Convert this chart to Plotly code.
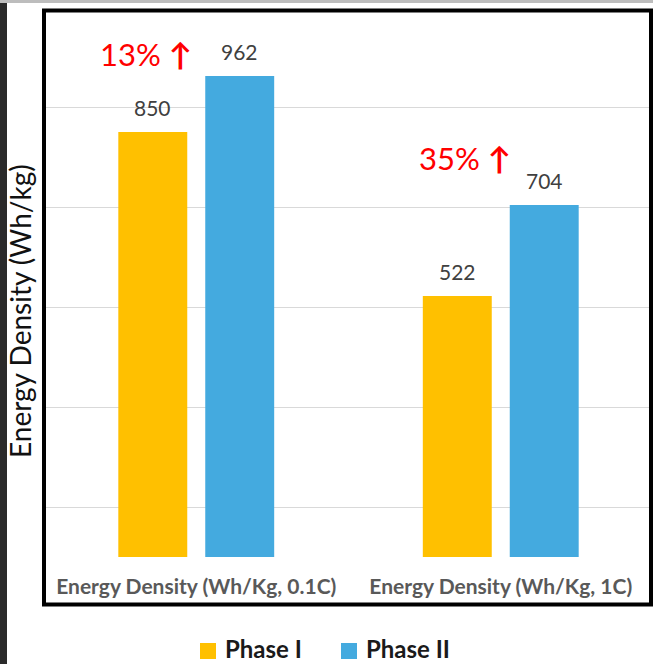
import plotly.graph_objects as go

# Data
categories = ["Energy Density (Wh/Kg, 0.1C)", "Energy Density (Wh/Kg, 1C)"]
phase_1 = [850, 522]
phase_2 = [962, 704]
series_names = ["Phase I", "Phase II"]
colors = ["#FFC000", "#44AADF"]
grid_vals = [100, 300, 500, 700, 900]

W, H = 653, 664
ML, MR, MT, MB = 44, 0, 12, 107
PW, PH = W - ML - MR, H - MT - MB
BARGAP, BARGROUPGAP = 0.429, 0.207


def px_x(px):
    return (px - ML) / PW


def px_y(py):
    return (H - MB - py) / PH


FONT = "Lato"

fig = go.Figure()
slot = (1 - BARGAP) / 2  # width of one bar slot, in category units
for k, (name, vals, col) in enumerate(zip(series_names, [phase_1, phase_2], colors)):
    fig.add_trace(go.Bar(
        x=categories, y=vals, name=name, marker_color=col,
        marker_line_width=0, showlegend=False,
    ))
    # value labels above the bars
    off = (k - 0.5) * slot
    for i, v in enumerate(vals):
        fig.add_annotation(
            x=i + off, y=v, xref="x", yref="y", yanchor="bottom", yshift=10,
            text=str(v), showarrow=False,
            font=dict(family=FONT, size=21, color="#404040"),
        )

# percentage gain labels
gain_x = [-0.166, -0.118]
gain_y = [1006, 799]
for i, (a, b) in enumerate(zip(phase_1, phase_2)):
    pct = round((b - a) / a * 100)
    fig.add_annotation(
        x=i + gain_x[i], y=gain_y[i], xref="x", yref="y",
        text=f"{pct}% <b>\u2191</b>", showarrow=False,
        font=dict(family=FONT, size=31, color="#FF0000"),
    )

# y-axis title
fig.add_annotation(
    x=px_x(20), y=px_y(311), xref="paper", yref="paper",
    xanchor="center", yanchor="middle",
    text="Energy Density (Wh/kg)", textangle=-90, showarrow=False,
    font=dict(family=FONT, size=28, color="#111111"),
)

shapes = [
    # black frame around the chart
    dict(type="rect", xref="paper", yref="paper",
         x0=px_x(44), x1=px_x(651), y0=px_y(604.5), y1=px_y(10.5),
         line=dict(color="black", width=4), fillcolor="rgba(0,0,0,0)"),
    # left dark strip
    dict(type="rect", xref="paper", yref="paper",
         x0=px_x(0), x1=px_x(7), y0=px_y(H), y1=px_y(0),
         line=dict(width=0), fillcolor="#2a2a2a", layer="below"),
    # top grey band
    dict(type="rect", xref="paper", yref="paper",
         x0=px_x(0), x1=px_x(W), y0=px_y(3), y1=px_y(0),
         line=dict(width=0), fillcolor="#bdbdbd", layer="below"),
]

# legend below the frame: swatch + bold label per series
legend_swatch_left = [200, 341]
for name, col, left in zip(series_names, colors, legend_swatch_left):
    shapes.append(dict(
        type="rect", xref="paper", yref="paper",
        x0=px_x(left), x1=px_x(left + 16), y0=px_y(659), y1=px_y(643),
        line=dict(width=0), fillcolor=col,
    ))
    fig.add_annotation(
        x=px_x(left + 24), y=px_y(648), xref="paper", yref="paper",
        xanchor="left", yanchor="middle", text=f"<b>{name}</b>",
        showarrow=False, borderpad=0,
        font=dict(family=FONT, size=24, color="#1a1a1a"),
    )

fig.update_layout(
    width=W, height=H,
    margin=dict(l=ML, r=MR, t=MT, b=MB, pad=0, autoexpand=False),
    paper_bgcolor="white", plot_bgcolor="white",
    barmode="group", bargap=BARGAP, bargroupgap=BARGROUPGAP,
    shapes=shapes,
    showlegend=False,
    xaxis=dict(
        type="category", showgrid=False, zeroline=False, showline=False,
        ticks="outside", ticklen=11, tickcolor="rgba(0,0,0,0)",
        tickfont=dict(family=FONT, size=21, color="#595959", weight="bold"),
        automargin=False,
    ),
    yaxis=dict(
        range=[0, 1090], tickvals=grid_vals, showticklabels=False,
        showgrid=True, gridcolor="#d9d9d9", gridwidth=1,
        zeroline=False, showline=False, ticks="", automargin=False,
    ),
)

fig.write_html("out.html")
